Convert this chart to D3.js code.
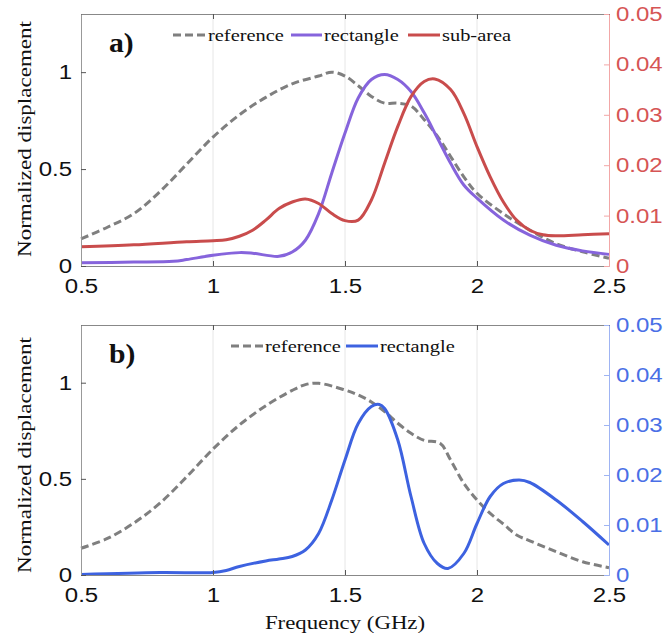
<!DOCTYPE html>
<html>
<head>
<meta charset="utf-8">
<script src="https://cdn.jsdelivr.net/npm/d3@7"></script>
<style>
  html,body{margin:0;padding:0;background:#fff;}
  svg{display:block;}
</style>
</head>
<body>
<svg id="chart" width="667" height="636"></svg>
<script>
// ---------------- DATA ----------------
const xTicks = [0.5, 1, 1.5, 2, 2.5];
const xTickLabels = ["0.5", "1", "1.5", "2", "2.5"];
const yLeftTicks = [0, 0.5, 1];
const yLeftTickLabels = ["0", "0.5", "1"];
const yRightTicks = [0, 0.01, 0.02, 0.03, 0.04, 0.05];
const yRightTickLabels = ["0", "0.01", "0.02", "0.03", "0.04", "0.05"];

// Panel a) reference (left axis)
const fRefA = [0.5,0.6,0.7,0.8,0.9,1.0,1.1,1.2,1.3,1.4,1.45,1.5,1.55,1.6,1.65,1.7,1.75,1.8,1.85,1.9,1.95,2.0,2.1,2.2,2.3,2.4,2.5];
const refA  = [0.14,0.20,0.27,0.385,0.525,0.665,0.78,0.87,0.94,0.98,1.0,0.98,0.93,0.875,0.84,0.84,0.825,0.755,0.67,0.565,0.46,0.375,0.27,0.185,0.115,0.073,0.04];
// Panel a) rectangle (left axis)
const fRectA = [0.5,0.7,0.85,0.9,1.0,1.1,1.15,1.25,1.3,1.35,1.4,1.45,1.5,1.55,1.6,1.65,1.7,1.75,1.8,1.85,1.9,1.95,2.0,2.1,2.2,2.3,2.4,2.5];
const rectA  = [0.017,0.02,0.024,0.033,0.055,0.069,0.066,0.05,0.072,0.133,0.27,0.48,0.686,0.867,0.962,0.988,0.962,0.90,0.79,0.66,0.53,0.418,0.35,0.237,0.159,0.107,0.078,0.06];
// Panel a) sub-area (right axis)
const fSubA = [0.5,0.7,0.9,1.0,1.05,1.1,1.15,1.2,1.25,1.3,1.35,1.4,1.45,1.5,1.55,1.6,1.65,1.7,1.75,1.8,1.84,1.9,1.95,2.0,2.05,2.1,2.15,2.2,2.25,2.3,2.4,2.5];
const subA  = [0.0038,0.0042,0.0048,0.0050,0.0052,0.0059,0.0071,0.0091,0.0114,0.0127,0.0133,0.0124,0.0104,0.0090,0.0091,0.0131,0.0204,0.0277,0.0336,0.0366,0.0371,0.0350,0.0303,0.0237,0.0177,0.0127,0.0091,0.0071,0.0062,0.0060,0.0062,0.0064];

// Panel b) reference (left axis)
const fRefB = [0.5,0.6,0.7,0.8,0.9,1.0,1.1,1.2,1.3,1.35,1.4,1.5,1.55,1.6,1.65,1.7,1.75,1.8,1.86,1.9,1.95,2.0,2.05,2.1,2.15,2.2,2.3,2.4,2.5];
const refB  = [0.139,0.19,0.27,0.375,0.51,0.655,0.78,0.88,0.96,0.99,0.997,0.962,0.936,0.90,0.85,0.789,0.737,0.70,0.685,0.598,0.477,0.39,0.32,0.265,0.208,0.178,0.121,0.069,0.038];
// Panel b) rectangle (right axis)
const fRectB = [0.5,0.8,1.0,1.05,1.1,1.2,1.25,1.3,1.35,1.4,1.45,1.5,1.55,1.6,1.63,1.65,1.7,1.75,1.8,1.85,1.89,1.95,2.0,2.05,2.1,2.16,2.2,2.3,2.4,2.5];
const rectB  = [0.0001,0.0005,0.0005,0.0009,0.0017,0.0028,0.0032,0.0037,0.0050,0.0083,0.0150,0.0230,0.0303,0.0337,0.0341,0.0333,0.0270,0.0157,0.0063,0.0023,0.0013,0.0043,0.0103,0.0157,0.0183,0.0190,0.0185,0.0150,0.0107,0.0060];

// ---------------- STYLE ----------------
const GRAY = "#7f7f7f", PURPLE = "#8664dc", RED = "#c94c4c", BLUE = "#3d62e0";
const SX = 1.2; // horizontal stretch of text seen in reference
const sansFont = "'Liberation Sans', Arial, Helvetica, sans-serif";
const serifFont = "'Liberation Serif', 'Times New Roman', serif";

const svg = d3.select("#chart");
const x = d3.scaleLinear().domain([0.5, 2.5]).range([81, 609]);

function stretch(sel, f) {
  sel.each(function() {
    const w = this.getComputedTextLength();
    d3.select(this).attr("textLength", w * f).attr("lengthAdjust", "spacingAndGlyphs");
  });
}

const panels = [
  { top: 14, bottom: 266, label: "a)", rightColor: "#d65555", rightAxisColor: "#f2a7a7",
    ytitleY: 139,
    series: [
      { f: fRefA, v: refA, axis: "L", color: GRAY, dash: "8,4", name: "reference" },
      { f: fRectA, v: rectA, axis: "L", color: PURPLE, dash: null, name: "rectangle" },
      { f: fSubA, v: subA, axis: "R", color: RED, dash: null, name: "sub-area" }
    ],
    legend: [ {x1:173, x2:206, tx:208}, {x1:291, x2:322, tx:324}, {x1:408, x2:440, tx:442} ]
  },
  { top: 325, bottom: 575, label: "b)", rightColor: "#4a6fe6", rightAxisColor: "#9fb4f3",
    ytitleY: 455,
    series: [
      { f: fRefB, v: refB, axis: "L", color: GRAY, dash: "8,4", name: "reference" },
      { f: fRectB, v: rectB, axis: "R", color: BLUE, dash: null, name: "rectangle" }
    ],
    legend: [ {x1:231, x2:263, tx:265}, {x1:346, x2:378, tx:380} ]
  }
];

panels.forEach((p, pi) => {
  const yL = d3.scaleLinear().domain([0, 1.3]).range([p.bottom, p.top]);
  const yR = d3.scaleLinear().domain([0, 0.05]).range([p.bottom, p.top]);
  const g = svg.append("g");

  // grid
  g.selectAll("line.grid").data([1, 1.5, 2]).join("line")
    .attr("x1", d => x(d)).attr("x2", d => x(d))
    .attr("y1", p.top).attr("y2", p.bottom)
    .attr("stroke", "#e6e6e6").attr("stroke-width", 1);

  // curves
  p.series.forEach(s => {
    const ys = s.axis === "L" ? yL : yR;
    const line = d3.line().x(d => x(d[0])).y(d => ys(d[1])).curve(d3.curveCatmullRom.alpha(0.5));
    g.append("path")
      .attr("d", line(s.f.map((f, i) => [f, s.v[i]])))
      .attr("fill", "none").attr("stroke", s.color).attr("stroke-width", 3)
      .attr("stroke-dasharray", s.dash);
  });

  // top border with inward ticks
  const topAx = g.append("g").attr("transform", `translate(0,${p.top})`)
    .call(d3.axisTop(x).tickValues(xTicks).tickSize(-5).tickSizeOuter(0).tickFormat(""));
  topAx.select(".domain").attr("stroke", "#888");
  topAx.selectAll(".tick line").attr("stroke", "#555");

  // bottom axis
  const botAx = g.append("g").attr("transform", `translate(0,${p.bottom})`)
    .call(d3.axisBottom(x).tickValues(xTicks).tickSize(-5).tickSizeOuter(0).tickPadding(12)
      .tickFormat((d, i) => xTickLabels[i]));
  botAx.select(".domain").attr("stroke", "#888");
  botAx.selectAll(".tick line").attr("stroke", "#555");
  botAx.selectAll(".tick text").attr("font-family", sansFont).attr("font-size", 20)
    .attr("fill", "#111").attr("dy", "0.75em");
  stretch(botAx.selectAll(".tick text"), SX);

  // left axis
  const leftAx = g.append("g").attr("transform", `translate(${x(0.5)},0)`)
    .call(d3.axisLeft(yL).tickValues(yLeftTicks).tickSize(-5).tickSizeOuter(0).tickPadding(9)
      .tickFormat((d, i) => yLeftTickLabels[i]));
  leftAx.select(".domain").attr("stroke", "#999");
  leftAx.selectAll(".tick line").attr("stroke", "#555");
  leftAx.selectAll(".tick text").attr("font-family", sansFont).attr("font-size", 20).attr("fill", "#111");
  stretch(leftAx.selectAll(".tick text"), SX);

  // right axis
  const rightAx = g.append("g").attr("transform", `translate(${x(2.5)},0)`)
    .call(d3.axisRight(yR).tickValues(yRightTicks).tickSize(-5).tickSizeOuter(0).tickPadding(7)
      .tickFormat((d, i) => yRightTickLabels[i]));
  rightAx.select(".domain").attr("stroke", p.rightAxisColor);
  rightAx.selectAll(".tick line").attr("stroke", p.rightAxisColor);
  rightAx.selectAll(".tick text").attr("font-family", sansFont).attr("font-size", 20).attr("fill", p.rightColor);
  stretch(rightAx.selectAll(".tick text"), SX);

  // y title
  const yt = g.append("text")
    .attr("transform", `translate(31,${p.ytitleY}) rotate(-90)`)
    .attr("text-anchor", "middle")
    .attr("font-family", serifFont).attr("font-size", 19).attr("fill", "#111")
    .text("Normalized displacement");
  yt.attr("textLength", 236).attr("lengthAdjust", "spacingAndGlyphs");

  // panel label
  const pl = g.append("text").attr("x", 109).attr("y", p.top + 38)
    .attr("font-family", serifFont).attr("font-weight", "bold").attr("font-size", 27).attr("fill", "#111")
    .text(p.label);
  stretch(pl, 1.1);

  // legend
  const ly = p.top + 21, lty = p.top + 27;
  p.series.forEach((s, i) => {
    const L = p.legend[i];
    g.append("line").attr("x1", L.x1).attr("x2", L.x2).attr("y1", ly).attr("y2", ly)
      .attr("stroke", s.color).attr("stroke-width", 3).attr("stroke-dasharray", s.dash);
    const t = g.append("text").attr("x", L.tx).attr("y", lty)
      .attr("font-family", serifFont).attr("font-size", 17).attr("fill", "#111").text(s.name);
    stretch(t, SX);
  });
});

// x title
const xt = svg.append("text").attr("x", 345).attr("y", 629).attr("text-anchor", "middle")
  .attr("font-family", serifFont).attr("font-size", 19).attr("fill", "#111")
  .text("Frequency (GHz)");
stretch(xt, SX);
</script>
</body>
</html>
